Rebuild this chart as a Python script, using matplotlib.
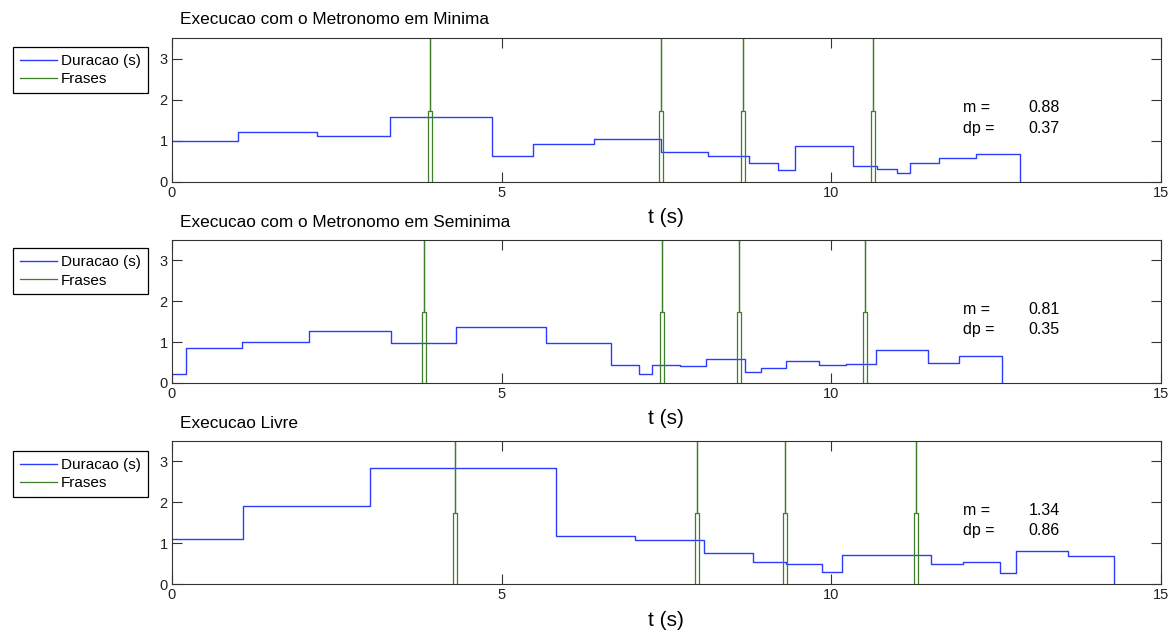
import numpy as np
import matplotlib
matplotlib.use("Agg")
import matplotlib.pyplot as plt

plt.rcParams['font.family'] = ['Liberation Sans', 'DejaVu Sans']

# --- data ---
titles = ["Execucao com o Metronomo em Minima",
          "Execucao com o Metronomo em Seminima",
          "Execucao Livre"]

# step edges (s) and note durations (s) for each execution
edges_minima = [0, 1.0, 2.2, 3.31, 4.85, 5.47, 6.4, 7.42, 8.14, 8.75, 9.2,
                9.45, 10.33, 10.7, 11.0, 11.2, 11.63, 12.2, 12.87]
dur_minima = [1.0, 1.22, 1.12, 1.57, 0.64, 0.93, 1.04, 0.73, 0.64, 0.47,
              0.28, 0.88, 0.40, 0.31, 0.22, 0.45, 0.59, 0.67]

edges_seminima = [0, 0.21, 1.06, 2.08, 3.33, 4.31, 5.68, 6.66, 7.09, 7.28,
                  7.71, 8.1, 8.7, 8.94, 9.31, 9.81, 10.22, 10.68, 11.47,
                  11.94, 12.6]
dur_seminima = [0.22, 0.85, 1.01, 1.27, 0.99, 1.38, 0.97, 0.43, 0.21, 0.43,
                0.42, 0.58, 0.27, 0.37, 0.53, 0.43, 0.46, 0.80, 0.49, 0.65]

edges_livre = [0, 1.08, 3.01, 5.83, 7.03, 8.07, 8.81, 9.31, 9.86, 10.16,
               11.52, 12.0, 12.57, 12.8, 13.59, 14.29]
dur_livre = [1.11, 1.91, 2.84, 1.17, 1.07, 0.75, 0.55, 0.50, 0.30, 0.70,
             0.48, 0.55, 0.26, 0.80, 0.69]

# phrase markers (s)
frases_minima = [3.91, 7.42, 8.66, 10.63]
frases_seminima = [3.83, 7.44, 8.61, 10.52]
frases_livre = [4.29, 7.96, 9.30, 11.29]

# mean and std-dev printed on each panel
m_vals = [0.88, 0.81, 1.34]
dp_vals = [0.37, 0.35, 0.86]

pulse_h = 1.73   # height of the phrase pulse
pulse_top = 4.0  # spike goes above the visible range
pulse_w = 0.03   # half width of the pulse

blue = '#2b3bff'
green = '#3f7f2a'
frame = '#333333'

all_edges = [edges_minima, edges_seminima, edges_livre]
all_dur = [dur_minima, dur_seminima, dur_livre]
all_frases = [frases_minima, frases_seminima, frases_livre]

fig = plt.figure(figsize=(11.7, 6.33), dpi=100)
boxes = [[0.147, 0.7125, 0.845, 0.2275],
         [0.147, 0.395, 0.845, 0.226],
         [0.147, 0.0774, 0.845, 0.226]]
legend_tops = [0.9257, 0.608, 0.2875]

for i in range(3):
    ax = fig.add_axes(boxes[i])

    x = np.array(all_edges[i])
    y = np.r_[all_dur[i], 0]
    ax.step(x, y, where='post', color=blue, lw=1.0, label='Duracao (s)')

    for k, t in enumerate(all_frases[i]):
        px = [t - pulse_w, t - pulse_w, t, t, t, t + pulse_w, t + pulse_w]
        py = [0, pulse_h, pulse_h, pulse_top, pulse_h, pulse_h, 0]
        ax.plot(px, py, color=green, lw=0.9,
                label='Frases' if k == 0 else None)

    ax.set_xlim(0, 15)
    ax.set_ylim(0, 3.5)
    ax.set_xticks([0, 5, 10, 15])
    ax.set_yticks([0, 1, 2, 3])
    ax.tick_params(direction='in', top=True, right=True, length=7,
                   width=0.8, labelsize=10.5, pad=3, color=frame,
                   labelcolor='#222222')
    for s in ax.spines.values():
        s.set_color(frame)
        s.set_linewidth(0.8)

    ax.set_xlabel('t (s)', fontsize=15, labelpad=6)
    ax.text(0.008, 1.125, titles[i], transform=ax.transAxes,
            fontsize=12.4, ha='left', va='center')

    ax.text(12, 1.8, 'm =', fontsize=11.5, va='center')
    ax.text(13, 1.8, f'{m_vals[i]:.2f}', fontsize=11.5, va='center')
    ax.text(12, 1.3, 'dp =', fontsize=11.5, va='center')
    ax.text(13, 1.3, f'{dp_vals[i]:.2f}', fontsize=11.5, va='center')

    leg = ax.legend(loc='upper left',
                    bbox_to_anchor=(13 / 1170, legend_tops[i]),
                    bbox_transform=fig.transFigure, fontsize=11,
                    fancybox=False, framealpha=1, edgecolor='black',
                    borderpad=0.45, labelspacing=0.3, handlelength=2.4,
                    handletextpad=0.3, borderaxespad=0)
    leg.get_frame().set_linewidth(0.9)

fig.savefig('out.png', dpi=100)
